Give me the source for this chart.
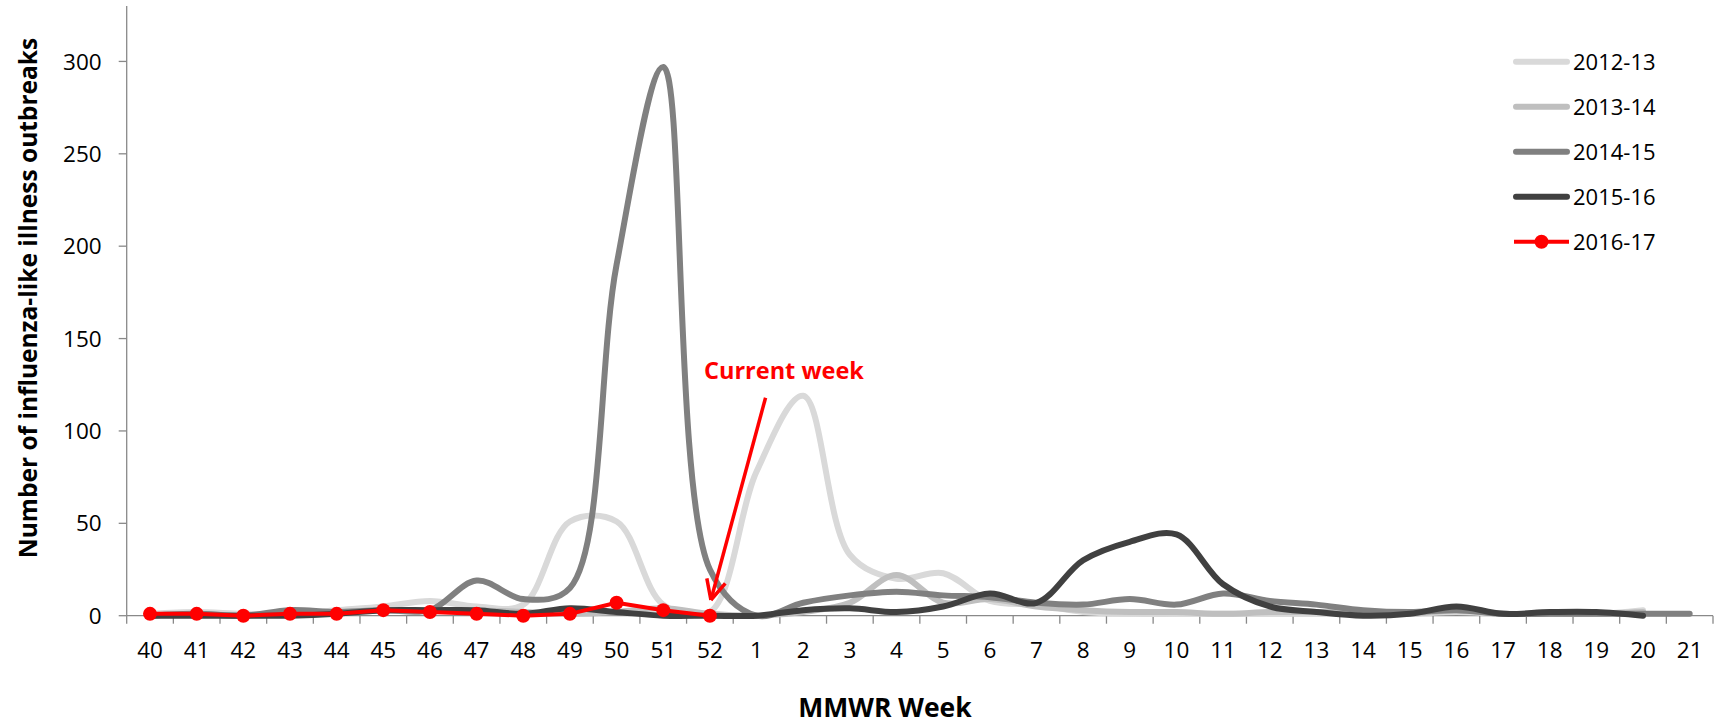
<!DOCTYPE html>
<html>
<head>
<meta charset="utf-8">
<script src="https://cdn.jsdelivr.net/npm/d3@7"></script>
<style>
  body { margin: 0; background: #fff; }
  text { font-family: "Open Sans", sans-serif; }
</style>
</head>
<body>
<div id="wrapper"></div>
<script>
const weeks = ["40", "41", "42", "43", "44", "45", "46", "47", "48", "49", "50", "51", "52",
  "1", "2", "3", "4", "5", "6", "7", "8", "9", "10", "11", "12", "13", "14", "15", "16",
  "17", "18", "19", "20", "21"];

const yTicks = [0, 50, 100, 150, 200, 250, 300];

const season1213 = [1, 2, 1, 1, 3, 5, 8, 5, 6, 51, 51, 6, 2, 78, 119, 33, 20, 23, 8, 6, 2,
  1, 1, 1, 1, 1, 1, 1, 2, 1, 1, 1, 3];
const season1314 = [0, 1, 0, 2, 2, 3, 3, 3, 2, 1, 2, 4, 1, 0, 2, 7, 22, 7, 9, 5, 3, 2, 2,
  1, 2, 2, 2, 1, 3, 1, 1, 1, 2];
const season1415 = [0, 1, 0, 3, 2, 3, 3, 19, 9, 15, 190, 297, 25, 0, 7, 11, 13, 11, 10, 7,
  6, 9, 6, 12, 8, 6, 3, 2, 3, 1, 1, 1, 1, 1];
const season1516 = [0, 0, 0, 0, 1, 3, 3, 3, 1, 4, 2, 0, 0, 0, 3, 4, 2, 5, 12, 7, 30, 40,
  44, 17, 5, 2, 0, 1, 5, 1, 2, 2, 0];
const season1617 = [1, 1, 0, 1, 1, 3, 2, 1, 0, 1, 7, 3, 0];

const seriesNames = ["2012-13", "2013-14", "2014-15", "2015-16", "2016-17"];
const seriesColors = ["#d9d9d9", "#bfbfbf", "#808080", "#404040", "#ff0000"];

function drawChart() {
  const dimensions = {
    width: 1719,
    height: 728,
    left: 126.7,
    right: 1713,
    top: 6,
    bottom: 615.7,
  };

  const svg = d3
    .select("#wrapper")
    .append("svg")
    .attr("width", dimensions.width)
    .attr("height", dimensions.height);

  const x = d3
    .scaleBand()
    .domain(weeks)
    .range([dimensions.left, dimensions.right]);
  const y = d3
    .scaleLinear()
    .domain([0, 330])
    .range([dimensions.bottom, dimensions.top]);
  const xc = (w) => x(w) + x.bandwidth() / 2;

  const axisColor = "#898989";

  // y axis
  svg
    .append("line")
    .attr("x1", dimensions.left)
    .attr("x2", dimensions.left)
    .attr("y1", dimensions.top)
    .attr("y2", dimensions.bottom)
    .attr("stroke", axisColor)
    .attr("stroke-width", 1.3);

  const yTick = svg.append("g").selectAll("g").data(yTicks).enter().append("g");
  yTick
    .append("line")
    .attr("x1", dimensions.left - 8)
    .attr("x2", dimensions.left)
    .attr("y1", (d) => y(d))
    .attr("y2", (d) => y(d))
    .attr("stroke", axisColor)
    .attr("stroke-width", 1.3);
  yTick
    .append("text")
    .attr("x", dimensions.left - 25)
    .attr("y", (d) => y(d))
    .attr("dy", "0.36em")
    .attr("text-anchor", "end")
    .attr("font-size", 22.5)
    .attr("fill", "#000")
    .text((d) => d);

  // x axis
  svg
    .append("line")
    .attr("x1", dimensions.left)
    .attr("x2", dimensions.right)
    .attr("y1", dimensions.bottom)
    .attr("y2", dimensions.bottom)
    .attr("stroke", axisColor)
    .attr("stroke-width", 1.3);

  svg
    .append("g")
    .selectAll("line")
    .data(weeks.concat(["end"]))
    .enter()
    .append("line")
    .attr("x1", (d) => (d === "end" ? dimensions.right : x(d)))
    .attr("x2", (d) => (d === "end" ? dimensions.right : x(d)))
    .attr("y1", dimensions.bottom)
    .attr("y2", dimensions.bottom + 8)
    .attr("stroke", axisColor)
    .attr("stroke-width", 1.3);

  svg
    .append("g")
    .selectAll("text")
    .data(weeks)
    .enter()
    .append("text")
    .attr("x", (d) => xc(d))
    .attr("y", 658)
    .attr("text-anchor", "middle")
    .attr("font-size", 22.5)
    .text((d) => d);

  // axis titles
  svg
    .append("text")
    .attr("transform", "translate(37,298) rotate(-90)")
    .attr("text-anchor", "middle")
    .attr("font-size", 24.5)
    .attr("font-weight", "bold")
    .text("Number of influenza-like illness outbreaks");

  svg
    .append("text")
    .attr("x", 885)
    .attr("y", 717)
    .attr("text-anchor", "middle")
    .attr("font-size", 26.5)
    .attr("font-weight", "bold")
    .text("MMWR Week");

  // smoothed season lines
  const seasons = [season1213, season1314, season1415, season1516];
  const smooth = d3
    .line()
    .x((d, i) => xc(weeks[i]))
    .y((d) => y(d))
    .curve(d3.curveCatmullRom.alpha(0.5));

  seasons.forEach((values, i) => {
    svg
      .append("path")
      .datum(values)
      .attr("d", smooth)
      .attr("fill", "none")
      .attr("stroke", seriesColors[i])
      .attr("stroke-width", 6)
      .attr("stroke-linecap", "round")
      .attr("stroke-linejoin", "round");
  });

  // current season
  const straight = d3
    .line()
    .x((d, i) => xc(weeks[i]))
    .y((d) => y(d));

  svg
    .append("path")
    .datum(season1617)
    .attr("d", straight)
    .attr("fill", "none")
    .attr("stroke", seriesColors[4])
    .attr("stroke-width", 4)
    .attr("stroke-linejoin", "round");

  svg
    .append("g")
    .selectAll("circle")
    .data(season1617)
    .enter()
    .append("circle")
    .attr("cx", (d, i) => xc(weeks[i]))
    .attr("cy", (d) => y(d))
    .attr("r", 7)
    .attr("fill", seriesColors[4]);

  // current week annotation
  const current = weeks[season1617.length - 1];
  const tipX = xc(current) + 1;
  const tipY = y(8.5);
  const startX = xc("1") + 9;
  const startY = y(118);
  const angle = Math.atan2(tipY - startY, tipX - startX);
  const head = 22;

  svg
    .append("line")
    .attr("x1", startX)
    .attr("y1", startY)
    .attr("x2", tipX)
    .attr("y2", tipY)
    .attr("stroke", "#ff0000")
    .attr("stroke-width", 3.5);

  svg
    .append("path")
    .attr(
      "d",
      [-0.45, 0.45]
        .map(
          (a) =>
            `M${tipX - head * Math.cos(angle + a)},${tipY - head * Math.sin(angle + a)}L${tipX},${tipY}`
        )
        .join("")
    )
    .attr("fill", "none")
    .attr("stroke", "#ff0000")
    .attr("stroke-width", 3.5);

  svg
    .append("text")
    .attr("x", 704)
    .attr("y", 379)
    .attr("font-size", 23.5)
    .attr("font-weight", "bold")
    .attr("fill", "#ff0000")
    .text("Current week");

  // legend
  const legend = svg
    .append("g")
    .selectAll("g")
    .data(seriesNames)
    .enter()
    .append("g")
    .attr("transform", (_, i) => `translate(1513,${61.7 + i * 45})`);

  legend
    .append("line")
    .attr("x1", (_, i) => (i === 4 ? 1 : 3))
    .attr("x2", (_, i) => (i === 4 ? 56 : 54))
    .attr("stroke", (_, i) => seriesColors[i])
    .attr("stroke-width", (_, i) => (i === 4 ? 4 : 6))
    .attr("stroke-linecap", (_, i) => (i === 4 ? "butt" : "round"));

  legend
    .filter((_, i) => i === 4)
    .append("circle")
    .attr("cx", 28.5)
    .attr("r", 7)
    .attr("fill", seriesColors[4]);

  legend
    .append("text")
    .attr("x", 60)
    .attr("dy", "0.36em")
    .attr("font-size", 22)
    .text((d) => d);
}

drawChart();
</script>
</body>
</html>
